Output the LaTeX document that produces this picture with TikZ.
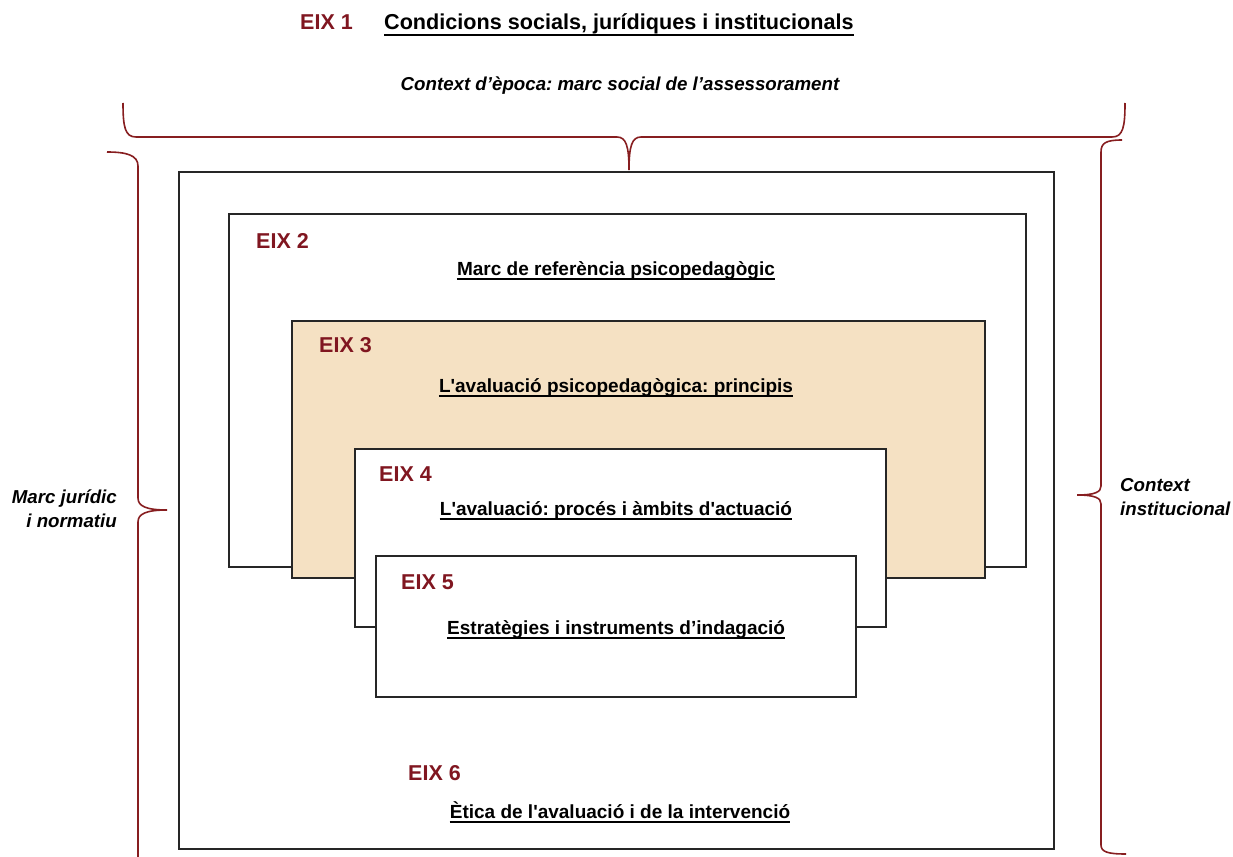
\documentclass[tikz,border=0pt]{standalone}
\usepackage{fontspec}
\setmainfont{Liberation Sans}[Ligatures=TeXOff]
\definecolor{eixred}{RGB}{128,22,32}
\definecolor{bracered}{RGB}{135,30,32}
\definecolor{tanfill}{RGB}{245,225,195}
\begin{document}
\frenchspacing
\begin{tikzpicture}[x=1pt,y=-1pt,
  box/.style={draw=black!85, line width=1.3pt},
  eix/.style={anchor=base west, inner sep=0, text=eixred, font=\fontsize{21.5}{25}\selectfont\bfseries},
  ttl/.style={anchor=base, inner sep=0, font=\fontsize{19}{23}\selectfont\bfseries},
  ul/.style={line width=1.2pt},
  brace/.style={draw=bracered, line width=1.6pt},
  side/.style={inner sep=0, font=\fontsize{18.7}{22}\selectfont\bfseries\itshape}]
\useasboundingbox (0,0) rectangle (1233,856);

% braces
\draw[brace] (123,103) .. controls (123,127) and (125,137) .. (136,137) -- (617,137)
  .. controls (626,137) and (629,146) .. (629,170)
  .. controls (629,146) and (632,137) .. (641,137) -- (1112,137)
  .. controls (1123,137) and (1125,127) .. (1125,103);
\draw[brace] (107,152) .. controls (126,152) and (138,155) .. (138,166) -- (138,498)
  .. controls (138,506) and (146,510) .. (167,510)
  .. controls (146,510) and (138,514) .. (138,522) -- (138,860);
\draw[brace] (1122,140) .. controls (1106,140) and (1101,143) .. (1101,152) -- (1101,486)
  .. controls (1101,492) and (1095,495) .. (1077,495)
  .. controls (1095,495) and (1101,498) .. (1101,504) -- (1101,845)
  .. controls (1101,852) and (1108,854) .. (1126,854);

% boxes
\draw[box, fill=white] (179,172) rectangle (1054,849);
\draw[box, fill=white] (229,214) rectangle (1026,567);
\draw[box, fill=tanfill] (292,321) rectangle (985,578);
\draw[box, fill=white] (355,449) rectangle (886,627);
\draw[box, fill=white] (376,556) rectangle (856,697);

% header
\node[eix] (e1) at (300,30) {EIX 1};
\node[ttl, anchor=base west, font=\fontsize{21.6}{25}\selectfont\bfseries] (t1) at (384,30) {Condicions socials, jurídiques i institucionals};
\draw[ul] ([yshift=-5pt]t1.base west) -- ([yshift=-5pt]t1.base east);
\node[side, anchor=base] (ctx) at (620,91) {Context d’època: marc social de l’assessorament};

\node[side, anchor=base east] (mj1) at (117,503) {Marc jurídic};
\node[side, anchor=base east] (mj2) at (117,527) {i normatiu};
\node[side, anchor=base west] (ci1) at (1120,491) {Context};
\node[side, anchor=base west] (ci2) at (1120,515) {institucional};

% EIX labels and titles
\node[eix] (e2) at (256,248) {EIX 2};
\node[ttl] (t2) at (616,275) {Marc de referència psicopedagògic};
\draw[ul] ([yshift=-4pt]t2.base west) -- ([yshift=-4pt]t2.base east);

\node[eix] (e3) at (319,352) {EIX 3};
\node[ttl] (t3) at (616,392) {L'avaluació psicopedagògica: principis};
\draw[ul] ([yshift=-4pt]t3.base west) -- ([yshift=-4pt]t3.base east);

\node[eix] (e4) at (379,481) {EIX 4};
\node[ttl] (t4) at (616,515) {L'avaluació: procés i àmbits d'actuació};
\draw[ul] ([yshift=-4pt]t4.base west) -- ([yshift=-4pt]t4.base east);

\node[eix] (e5) at (401,589) {EIX 5};
\node[ttl, anchor=base west] (t5) at (447,634) {Estratègies i instruments d’indagació\hspace{5pt}};
\draw[ul] ([yshift=-4pt]t5.base west) -- ([yshift=-4pt]t5.base east);

\node[eix] (e6) at (408,780) {EIX 6};
\node[ttl] (t6) at (620,818) {Ètica de l'avaluació i de la intervenció};
\draw[ul] ([yshift=-4pt]t6.base west) -- ([yshift=-4pt]t6.base east);
\end{tikzpicture}
\end{document}
